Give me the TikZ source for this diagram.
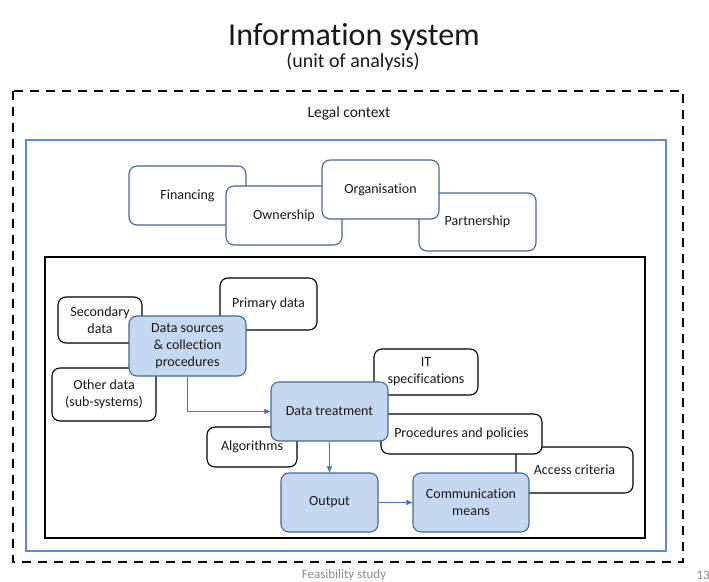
\documentclass[tikz,border=0pt]{standalone}
\usepackage{fontspec}
\setmainfont{Carlito}[Ligatures={NoCommon}]
\usetikzlibrary{arrows.meta}

\definecolor{frameblue}{RGB}{91,141,214}
\definecolor{boxline}{RGB}{65,105,150}
\definecolor{boxfill}{RGB}{198,216,240}
\definecolor{arrowblue}{RGB}{70,114,196}
\definecolor{footgray}{RGB}{140,140,140}
\definecolor{txt}{RGB}{25,25,25}

\tikzset{
  lbl/.style={font=\fontsize{14}{16.8}\selectfont, text=txt, align=center},
  topbox/.style={lbl, draw=boxline, line width=1.1pt, fill=white, rounded corners=8pt, inner sep=0pt},
  wbox/.style={lbl, draw=black, line width=1.1pt, fill=white, rounded corners=8pt, inner sep=0pt},
  bbox/.style={lbl, draw=boxline, line width=1.1pt, fill=boxfill, rounded corners=8pt, inner sep=0pt},
  flow/.style={draw=arrowblue, line width=1pt, -{Triangle[length=6pt,width=5pt]}},
}

\begin{document}
\begin{tikzpicture}[x=1pt,y=-1pt]
\useasboundingbox (0,0) rectangle (709,581);

% titles
\node[font=\fontsize{32}{38}\selectfont, text=txt] (title) at (354,37) {Information system};
\node[font=\fontsize{20}{24}\selectfont, text=txt] (subtitle) at (353,62) {(unit of analysis)};

% nested frames
\draw[black, line width=2pt, dash pattern=on 9pt off 7pt] (13,91) rectangle (683,562);
\node[lbl, font=\fontsize{15.5}{18}\selectfont] (legal) at (349,113) {Legal context};
\draw[frameblue, line width=2pt] (26,140) rectangle (666,551);
\draw[black, line width=2pt] (45,257) rectangle (645,538);

% governance boxes
\node[topbox, minimum width=117pt, minimum height=59pt] (fin) at (187.5,195.5) {Financing};
\node[topbox, minimum width=116pt, minimum height=59pt] (own) at (284,215.5) {Ownership};
\node[topbox, minimum width=117pt, minimum height=58pt] (part) at (477.5,222) {Partnership};
\node[topbox, minimum width=117pt, minimum height=59pt] (org) at (380.5,189.5) {Organisation};

% data collection
\node[wbox, minimum width=97pt, minimum height=52pt] (prim) at (268.5,304) {Primary data};
\node[wbox, minimum width=84pt, minimum height=46pt] (sec) at (100,320) {Secondary\\data};
\node[wbox, minimum width=104pt, minimum height=53pt] (oth) at (104,394.5) {Other data\\(sub-systems)};
\node[bbox, minimum width=117pt, minimum height=60pt] (ds) at (187.5,346) {Data sources\\\& collection\\procedures};

% treatment and output
\node[wbox, minimum width=104pt, minimum height=46pt] (it) at (426,372) {IT\\specifications};
\node[wbox, minimum width=90pt, minimum height=40pt] (alg) at (252,447) {Algorithms};
\node[wbox, minimum width=117pt, minimum height=46pt] (acc) at (574.5,470) {Access criteria};
\node[wbox, minimum width=161pt, minimum height=40pt] (proc) at (461.5,434) {Procedures and policies};
\node[bbox, minimum width=117pt, minimum height=59pt] (dt) at (329.5,411.5) {Data treatment};
\node[bbox, minimum width=97pt, minimum height=59pt] (out) at (329.5,502.5) {Output};
\node[bbox, minimum width=116pt, minimum height=59pt] (comm) at (471,502.5) {Communication\\means};

% flow connectors
\draw[flow] (ds.south) |- (dt.west);
\draw[flow] (dt.south) -- (out.north);
\draw[flow] (out.east) -- (comm.west);

% footer
\node[font=\fontsize{13}{15}\selectfont, text=footgray] (foot) at (344,575) {Feasibility study};
\node[font=\fontsize{13}{15}\selectfont, text=footgray, anchor=west] (pgno) at (693,575) {13};
\end{tikzpicture}
\end{document}
